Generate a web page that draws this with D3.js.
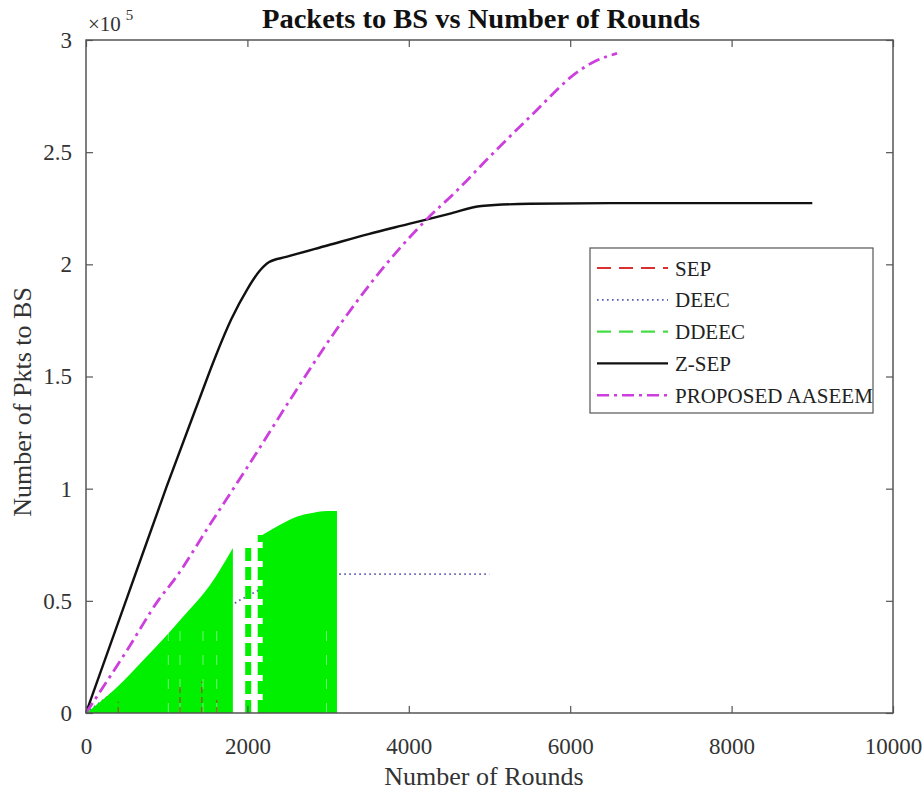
<!DOCTYPE html>
<html>
<head>
<meta charset="utf-8">
<script src="https://cdn.jsdelivr.net/npm/d3@7"></script>
<style>
  html, body { margin: 0; padding: 0; background: #fff; }
  svg { display: block; font-family: "Liberation Serif", "DejaVu Serif", serif; }
</style>
</head>
<body>
<svg id="chart" width="923" height="792"></svg>
<script>
// Packets delivered to the base station per round, for five clustering protocols.

const xTicks = [0, 2000, 4000, 6000, 8000, 10000];
const yTicks = [0, 50000, 100000, 150000, 200000, 250000, 300000];

// Z-SEP (black solid)
const zsepRounds = [0, 500, 1000, 1400, 1600, 1800, 2000, 2150, 2270, 2480, 3000, 3500, 4000, 4500, 4900, 5500, 6500, 7500, 9000];
const zsepPkts   = [0, 50500, 101000, 139500, 158500, 175500, 189000, 197000, 201000, 203300, 208500, 213500, 218000, 222500, 226000, 227000, 227300, 227300, 227300];

// PROPOSED AASEEM (magenta dash-dot)
const aaseemRounds = [0, 500, 900, 1120, 1500, 2030, 2500, 3100, 3560, 4220, 4600, 5000, 5500, 6120, 6290, 6580];
const aaseemPkts   = [0, 27500, 50400, 60700, 82000, 111300, 138000, 170700, 193000, 220000, 233000, 247900, 265700, 286500, 290200, 294000];

// DEEC (blue dotted)
const deecRounds = [0, 500, 1000, 1500, 1870, 2160, 2500, 2800, 3100, 5000];
const deecPkts   = [0, 13500, 27000, 40000, 49600, 55100, 59500, 61300, 61900, 61900];

// DDEEC (green): upper envelope of its per-round values, in two runs
const ddeecRoundsA = [0, 340, 750, 1165, 1580, 1745, 1820];
const ddeecPeakA   = [0, 10000, 25100, 41400, 59300, 68900, 73500];
const ddeecRoundsB = [2190, 2400, 2610, 2820, 2980, 3110];
const ddeecPeakB   = [79500, 83800, 87500, 89300, 90000, 90000];
// DDEEC isolated vertical runs between the two blocks
const ddeecBarRounds = [2010, 2165];
const ddeecBarPeaks  = [75700, 79300];
// faint gaps inside the DDEEC block
const ddeecGapRounds = [1020, 1165, 1450, 1620, 2980];

// SEP (red dashed): short bursts near the bottom
const sepRounds = [400, 1165, 1434, 1620];
const sepPeaks  = [5000, 12500, 14000, 5800];

const legendNames = ["SEP", "DEEC", "DDEEC", "Z-SEP", "PROPOSED AASEEM"];

const svg = d3.select("#chart");
const margin = { left: 86, right: 30, top: 40, bottom: 79 };
const W = 923, H = 792;
const x = d3.scaleLinear().domain([0, 10000]).range([margin.left, W - margin.right]);
const y = d3.scaleLinear().domain([0, 300000]).range([H - margin.bottom, margin.top]);

const axisColor = "#555";
const labelColor = "#333";

const colors = {
  SEP: "#d93030",
  DEEC: "#5a5ab4",
  DDEEC: "#00f000",
  DDEECLine: "#44dd44",
  ZSEP: "#111",
  AASEEM: "#cc3fdd"
};

const plot = svg.append("g");

// DEEC
plot.append("path")
  .attr("d", d3.line().x((d, i) => x(deecRounds[i])).y(d => y(d))(deecPkts))
  .attr("fill", "none").attr("stroke", colors.DEEC)
  .attr("stroke-width", 1.8).attr("stroke-dasharray", "1.6,3.4");

// DDEEC blocks
const area = d3.area().x(d => x(d[0])).y0(y(0)).y1(d => y(d[1])).curve(d3.curveMonotoneX);
plot.append("path")
  .attr("d", area(ddeecRoundsA.map((r, i) => [r, ddeecPeakA[i]])))
  .attr("fill", colors.DDEEC);
plot.append("path")
  .attr("d", area(ddeecRoundsB.map((r, i) => [r, ddeecPeakB[i]])))
  .attr("fill", colors.DDEEC);
plot.selectAll(".dbar").data(ddeecBarRounds).enter().append("line")
  .attr("x1", d => x(d)).attr("x2", d => x(d))
  .attr("y1", y(0)).attr("y2", (d, i) => y(ddeecBarPeaks[i]))
  .attr("stroke", colors.DDEEC).attr("stroke-width", 6)
  .attr("stroke-dasharray", "13,6");
plot.selectAll(".dgap").data(ddeecGapRounds).enter().append("line")
  .attr("x1", d => x(d)).attr("x2", d => x(d))
  .attr("y1", y(0)).attr("y2", y(40000))
  .attr("stroke", "#fff").attr("stroke-opacity", 0.45).attr("stroke-width", 1)
  .attr("stroke-dasharray", "10,14");

// SEP bursts visible through the DDEEC dashes
plot.selectAll(".sep").data(sepRounds).enter().append("line")
  .attr("x1", d => x(d)).attr("x2", d => x(d))
  .attr("y1", y(0)).attr("y2", (d, i) => y(sepPeaks[i]))
  .attr("stroke", "#a0452a").attr("stroke-opacity", 0.75).attr("stroke-width", 1.5)
  .attr("stroke-dasharray", "6,4");

// Z-SEP
plot.append("path")
  .attr("d", d3.line().x((d, i) => x(zsepRounds[i])).y(d => y(d)).curve(d3.curveMonotoneX)(zsepPkts))
  .attr("fill", "none").attr("stroke", colors.ZSEP).attr("stroke-width", 2.4);

// PROPOSED AASEEM
plot.append("path")
  .attr("d", d3.line().x((d, i) => x(aaseemRounds[i])).y(d => y(d)).curve(d3.curveMonotoneX)(aaseemPkts))
  .attr("fill", "none").attr("stroke", colors.AASEEM).attr("stroke-width", 2.8)
  .attr("stroke-dasharray", "12,5,3,5");

// Axes box
const box = svg.append("g");
box.append("rect")
  .attr("x", x(0)).attr("y", y(300000))
  .attr("width", x(10000) - x(0)).attr("height", y(0) - y(300000))
  .attr("fill", "none").attr("stroke", axisColor).attr("stroke-width", 1.5);

const tickLen = 7;
const xAxis = svg.append("g").attr("transform", `translate(0,${y(0)})`)
  .call(d3.axisBottom(x).tickValues(xTicks).tickSizeInner(-tickLen).tickSizeOuter(0).tickPadding(25).tickFormat(d3.format("d")));
const yAxis = svg.append("g").attr("transform", `translate(${x(0)},0)`)
  .call(d3.axisLeft(y).tickValues(yTicks).tickSizeInner(-tickLen).tickSizeOuter(0).tickPadding(14).tickFormat(d => d / 100000));
const xTop = svg.append("g").attr("transform", `translate(0,${y(300000)})`)
  .call(d3.axisTop(x).tickValues(xTicks).tickSizeInner(-tickLen).tickSizeOuter(0).tickFormat(""));
const yRight = svg.append("g").attr("transform", `translate(${x(10000)},0)`)
  .call(d3.axisRight(y).tickValues(yTicks).tickSizeInner(-tickLen).tickSizeOuter(0).tickFormat(""));

[xAxis, yAxis, xTop, yRight].forEach(g => {
  g.select(".domain").remove();
  g.selectAll(".tick line").attr("stroke", axisColor).attr("stroke-width", 1.2);
  g.selectAll(".tick text").attr("fill", labelColor)
    .style("font-family", '"Liberation Serif", serif').style("font-size", "23px");
});

// Exponent marker
const expo = svg.append("text").attr("x", 88).attr("y", 31)
  .attr("fill", labelColor).style("font-size", "21px");
expo.append("tspan").text("×10");
expo.append("tspan").attr("dx", 5).attr("dy", -11).style("font-size", "15px").text("5");

// Title and axis labels
svg.append("text").attr("x", 481).attr("y", 28).attr("text-anchor", "middle")
  .attr("textLength", 438).attr("lengthAdjust", "spacingAndGlyphs")
  .attr("fill", "#111").style("font-weight", "bold").style("font-size", "27px")
  .text("Packets to BS vs Number of Rounds");
svg.append("text").attr("x", 484).attr("y", 785).attr("text-anchor", "middle")
  .attr("fill", labelColor).style("font-size", "26px")
  .text("Number of Rounds");
svg.append("text").attr("transform", "translate(31,402) rotate(-90)").attr("text-anchor", "middle")
  .attr("fill", labelColor).style("font-size", "26px")
  .text("Number of Pkts to BS");

// Legend
const lg = svg.append("g");
lg.append("rect").attr("x", 590).attr("y", 248).attr("width", 283).attr("height", 165)
  .attr("fill", "#fff").attr("stroke", "#555").attr("stroke-width", 1.2);
const legendStyles = [
  { stroke: colors.SEP, w: 2.2, dash: "14,8" },
  { stroke: colors.DEEC, w: 1.8, dash: "1.6,3.4" },
  { stroke: colors.DDEECLine, w: 2.2, dash: "14,8" },
  { stroke: colors.ZSEP, w: 2.4, dash: null },
  { stroke: colors.AASEEM, w: 2.6, dash: "12,5,3,5" }
];
const rows = lg.selectAll(".row").data(legendNames).enter().append("g")
  .attr("transform", (d, i) => `translate(0,${268 + i * 31.8})`);
rows.append("line").attr("x1", 597).attr("x2", 668).attr("y1", 0).attr("y2", 0)
  .attr("stroke", (d, i) => legendStyles[i].stroke)
  .attr("stroke-width", (d, i) => legendStyles[i].w)
  .attr("stroke-dasharray", (d, i) => legendStyles[i].dash);
rows.append("text").attr("x", 675).attr("y", 7.5)
  .attr("fill", "#222").style("font-size", "21px").text(d => d);
</script>
</body>
</html>
